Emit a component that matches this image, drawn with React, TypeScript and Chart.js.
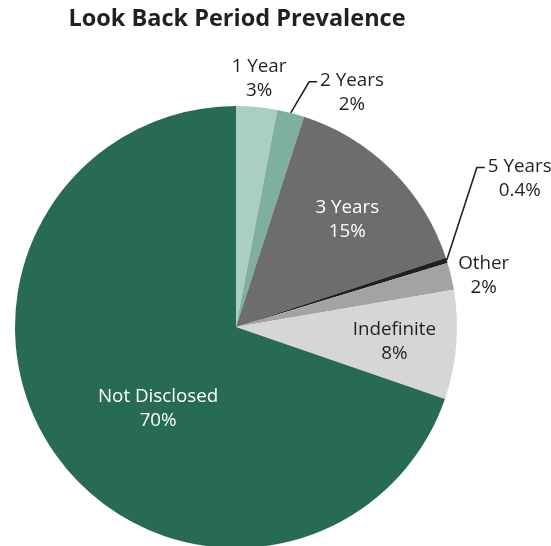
import React, { useEffect, useRef } from "react";
import { Chart, registerables } from "chart.js";

Chart.register(...registerables);

const categories = ["1 Year", "2 Years", "3 Years", "5 Years", "Other", "Indefinite", "Not Disclosed"];
const shares = [3, 2, 15, 0.4, 2, 8, 70];
const shareLabels = ["3%", "2%", "15%", "0.4%", "2%", "8%", "70%"];
const sliceColors = ["#a9cfc4", "#7fb09f", "#6d6d6d", "#231f20", "#a3a3a3", "#d6d6d6", "#286b55"];
const labelColors = ["#231f20", "#231f20", "#ffffff", "#231f20", "#231f20", "#231f20", "#ffffff"];

// label placement: angle (deg clockwise from 12 o'clock) and distance as a share of the radius
const labelPlace: { angle: number; dist: number; elbow?: { angle: number; dist: number } }[] = [
  { angle: 5.3, dist: 1.13 },
  { angle: 0, dist: 0, elbow: { angle: 16.6, dist: 1.158 } },
  { angle: 46, dist: 0.70 },
  { angle: 0, dist: 0, elbow: { angle: 56.5, dist: 1.307 } },
  { angle: 78.2, dist: 1.145 },
  { angle: 95.4, dist: 0.72 },
  { angle: 223.7, dist: 0.51 },
];

const TITLE = "Look Back Period Prevalence";
const FONT = '"Open Sans", sans-serif';

const labelPlugin = {
  id: "sliceLabels",
  afterDraw(chart: any) {
    const ctx = chart.ctx;
    const meta = chart.getDatasetMeta(0);
    ctx.save();
    ctx.fillStyle = "#231f20";
    ctx.font = `bold 23.5px ${FONT}`;
    ctx.textAlign = "center";
    ctx.textBaseline = "middle";
    ctx.fillText(TITLE, 237, 19);

    ctx.font = `18.8px ${FONT}`;
    const lineGap = 24;
    meta.data.forEach((arc: any, i: number) => {
      const { x, y, startAngle, endAngle, outerRadius } = arc.getProps(
        ["x", "y", "startAngle", "endAngle", "outerRadius"],
        true
      );
      const p = labelPlace[i];
      const polar = (deg: number, r: number) => {
        const a = (deg - 90) * (Math.PI / 180);
        return { px: x + Math.cos(a) * r, py: y + Math.sin(a) * r };
      };
      ctx.fillStyle = labelColors[i];
      if (p.elbow) {
        const mid = (startAngle + endAngle) / 2;
        const sx = x + Math.cos(mid) * outerRadius;
        const sy = y + Math.sin(mid) * outerRadius;
        const e = polar(p.elbow.angle, outerRadius * p.elbow.dist);
        ctx.strokeStyle = "#231f20";
        ctx.lineWidth = 1.6;
        ctx.beginPath();
        ctx.moveTo(sx, sy);
        ctx.lineTo(e.px, e.py);
        ctx.lineTo(e.px + 8, e.py);
        ctx.stroke();
        const w = ctx.measureText(categories[i]).width;
        const cx = e.px + 11 + w / 2;
        ctx.fillText(categories[i], cx, e.py - 1);
        ctx.fillText(shareLabels[i], cx, e.py - 1 + lineGap);
      } else {
        const c = polar(p.angle, outerRadius * p.dist);
        ctx.fillText(categories[i], c.px, c.py - lineGap / 2);
        ctx.fillText(shareLabels[i], c.px, c.py + lineGap / 2);
      }
    });
    ctx.restore();
  },
};

export default function App() {
  const ref = useRef<HTMLCanvasElement>(null);
  useEffect(() => {
    if (!ref.current) return;
    const chart = new Chart(ref.current, {
      type: "pie",
      data: {
        labels: categories,
        datasets: [
          {
            data: shares,
            backgroundColor: sliceColors,
            borderWidth: 0,
          },
        ],
      },
      options: {
        responsive: false,
        animation: false,
        layout: { padding: { left: 15, right: 94, top: 106, bottom: 12 } },
        plugins: {
          legend: { display: false },
          tooltip: { enabled: false },
        },
      },
      plugins: [labelPlugin],
    });
    return () => chart.destroy();
  }, []);
  return (
    <div style={{ position: "fixed", left: 0, top: 0, width: 551, height: 546, overflow: "hidden", background: "#fff" }}>
      <canvas ref={ref} width={551} height={560} style={{ display: "block" }} />
    </div>
  );
}
